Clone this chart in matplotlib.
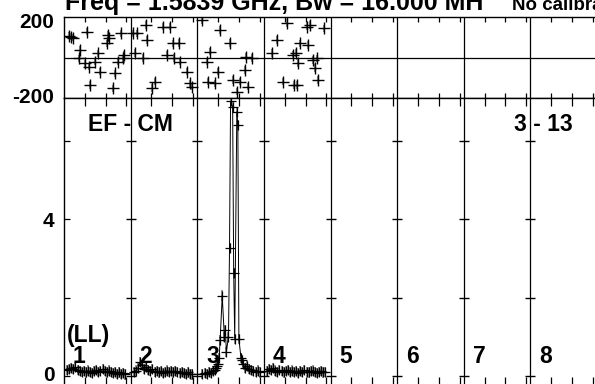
import matplotlib
matplotlib.use('Agg')
import matplotlib.pyplot as plt
from matplotlib.transforms import ScaledTranslation

plt.rcParams['font.family'] = ['Liberation Sans', 'DejaVu Sans']
plt.rcParams['font.weight'] = 'bold'

W, H = 595, 384
NCHAN = 64
NBANDS = 8
band_names = ['1', '2', '3', '4', '5', '6', '7', '8']

# phase (deg): channel inside the baseband, value
ph_chan_1 = [5, 7, 9, 14, 15, 20, 22, 24, 25, 30, 33, 35, 41, 42, 43, 47, 49, 52, 55, 57, 58]
ph_val_1 = [108, 103, 98, -4, 37, -29, 128, -45, -136, -21, 21, -70, 70, 111, 95, -152, -78, -21, 119, -4, 12]
ph_chan_2 = [2, 6, 4, 12, 15, 16, 21, 23, 31, 35, 38, 41, 42, 46, 47, 54, 57, 59]
ph_val_2 = [120, 119, 22, -2, 160, 86, -150, -120, 152, 12, 152, 70, -2, 72, -21, -70, -127, -144]
ph_chan_3 = [5, 9, 10, 12, 17, 20, 22, 31, 34, 38, 41, 46, 47, 49, 53]
ph_val_3 = [185, -21, -120, 29, -127, -70, 136, 72, -111, -169, -120, -62, 4, -144, -2]
ph_chan_4 = [8, 13, 18, 22, 28, 29, 31, 32, 33, 35, 41, 42, 44, 47, 49, 51, 52, 58]
ph_val_4 = [22, 86, -120, 170, 12, -136, 22, -136, -27, 70, 152, 62, 160, -12, -52, -4, -111, 144]

# amplitude (Jy): channel inside the baseband, value
amp_chan_1 = list(range(3, 60, 2))
amp_val_1 = [0.15, 0.18, 0.2, 0.17, 0.22, 0.16, 0.12, 0.1, 0.13, 0.09, 0.14, 0.11, 0.08, 0.12, 0.15,
             0.1, 0.13, 0.17, 0.12, 0.09, 0.14, 0.1, 0.08, 0.11, 0.06, 0.09, 0.05, 0.07, 0.04]
amp_chan_2 = list(range(3, 60, 2))
amp_val_2 = [0.1, 0.14, 0.2, 0.35, 0.28, 0.18, 0.22, 0.15, 0.12, 0.17, 0.1, 0.13, 0.09, 0.12, 0.08,
             0.11, 0.14, 0.1, 0.12, 0.09, 0.13, 0.1, 0.07, 0.11, 0.08, 0.06, 0.09, 0.05, 0.04]
amp_chan_3 = [5, 7, 9, 11, 13, 15, 17, 18, 19, 20, 21, 22, 24, 26, 27, 28, 30, 31, 32, 34, 35, 36,
              38, 39, 40, 42, 43, 44, 46, 48, 50, 52, 54, 56, 58, 60]
amp_val_3 = [0.05, 0.08, 0.06, 0.1, 0.07, 0.12, 0.15, 0.2, 0.25, 0.3, 0.45, 0.92, 2.05, 1.0, 1.18,
             0.62, 1.0, 3.26, 7.0, 6.85, 2.63, 0.95, 6.73, 6.4, 0.95, 0.46, 0.4, 0.3, 0.2, 0.25,
             0.18, 0.15, 0.12, 0.1, 0.14, 0.09]
amp_chan_4 = list(range(3, 60, 2))
amp_val_4 = [0.12, 0.18, 0.15, 0.2, 0.14, 0.1, 0.16, 0.12, 0.09, 0.13, 0.15, 0.11, 0.14, 0.1, 0.12,
             0.08, 0.13, 0.1, 0.15, 0.11, 0.09, 0.12, 0.14, 0.1, 0.08, 0.11, 0.13, 0.09, 0.1]
amp_err = 0.13
ph_err = 18

ph_sets = [(ph_chan_1, ph_val_1), (ph_chan_2, ph_val_2), (ph_chan_3, ph_val_3), (ph_chan_4, ph_val_4)]
amp_sets = [(amp_chan_1, amp_val_1), (amp_chan_2, amp_val_2), (amp_chan_3, amp_val_3), (amp_chan_4, amp_val_4)]

fig = plt.figure(figsize=(W / 100, H / 100), dpi=100)

def px_box(left, top, right, bottom):
    return [left / W, 1 - bottom / H, (right - left) / W, (bottom - top) / H]

ax_ph = fig.add_axes(px_box(64, 17, 597, 98))
ax_amp = fig.add_axes(px_box(64, 98, 597, 385))

band_edges = [b * NCHAN for b in range(NBANDS + 1)]
minor = [b * NCHAN + c for b in range(NBANDS) for c in (20, 40, 60)]

# Phase panel
px, py = [], []
for b, (ch, val) in enumerate(ph_sets):
    px += [b * NCHAN + c for c in ch]
    py += val
ax_ph.errorbar(px, py, yerr=ph_err, fmt='none', ecolor='#8a8a8a', elinewidth=1.5)
ax_ph.plot(px, py, ls='none', marker='+', ms=8.5, mew=1, color='black')
ax_ph.axhline(0, color='black', lw=0.9)
ax_ph.set_ylim(-200, 200)
ax_ph.set_yticks([-200, 200])
ax_ph.set_yticklabels(['-200', '200'])

# Amplitude panel
ax_x, ax_y = [], []
for b, (ch, val) in enumerate(amp_sets):
    ax_x += [b * NCHAN + c for c in ch]
    ax_y += val
ax_amp.errorbar(ax_x, ax_y, yerr=amp_err, fmt='none', ecolor='#8a8a8a', elinewidth=1.3)
ax_amp.plot(ax_x, ax_y, color='black', lw=0.7, marker='+', ms=7.5, mew=0.9)
ax_amp.set_ylim(-0.229, 7.083)
amp_ticks = [0, 2, 4, 6]
ax_amp.set_yticks(amp_ticks)
ax_amp.set_yticklabels(['0', '', '4', ''])
# cross ticks on each baseband divider
for e in band_edges[1:-1]:
    ax_amp.plot([e] * len(amp_ticks), amp_ticks, ls='none', marker='_', ms=7, mew=1, color='black')

for ax in (ax_ph, ax_amp):
    ax.set_xlim(0, NBANDS * NCHAN)
    for e in band_edges[1:-1]:
        ax.axvline(e, color='black', lw=0.9)
    ax.set_xticks(minor)
    ax.set_xticklabels([])
    ax.tick_params(axis='x', direction='in', length=3.8, width=0.9, top=True, bottom=True)
    ax.tick_params(axis='y', direction='in', length=4, width=0.9, labelsize=15, pad=7)
    for s in ax.spines.values():
        s.set_linewidth(1)
ax_ph.tick_params(axis='y', length=0)
ax_amp.tick_params(axis='x', which='major', bottom=True, length=5.5)

# nudge the end labels inward like the original
def nudge(label, dy):
    label.set_transform(label.get_transform() + ScaledTranslation(0, dy / 72, fig.dpi_scale_trans))

ph_labels = ax_ph.get_yticklabels()
nudge(ph_labels[0], 2)
nudge(ph_labels[1], -2.2)
nudge(ax_amp.get_yticklabels()[0], 2)

def ftext(x, y, s, **kw):
    fig.text(x / W, 1 - y / H, s, va='baseline', fontweight='bold', **kw)

ftext(65, 10, 'Freq = 1.5839 GHz, Bw = 16.000 MH', fontsize=18)
ftext(512, 10, 'No calibration applied', fontsize=13.5)
ftext(88, 131, 'EF - CM', fontsize=16.5)
ftext(573, 131, '3 - 13', fontsize=16.5, ha='right')
ftext(67, 342, '(LL)', fontsize=16.5)
for b, name in enumerate(band_names):
    ftext(64 + b * 533 / NBANDS + 9, 363, name, fontsize=16.5)

fig.savefig('out.png', dpi=100)
